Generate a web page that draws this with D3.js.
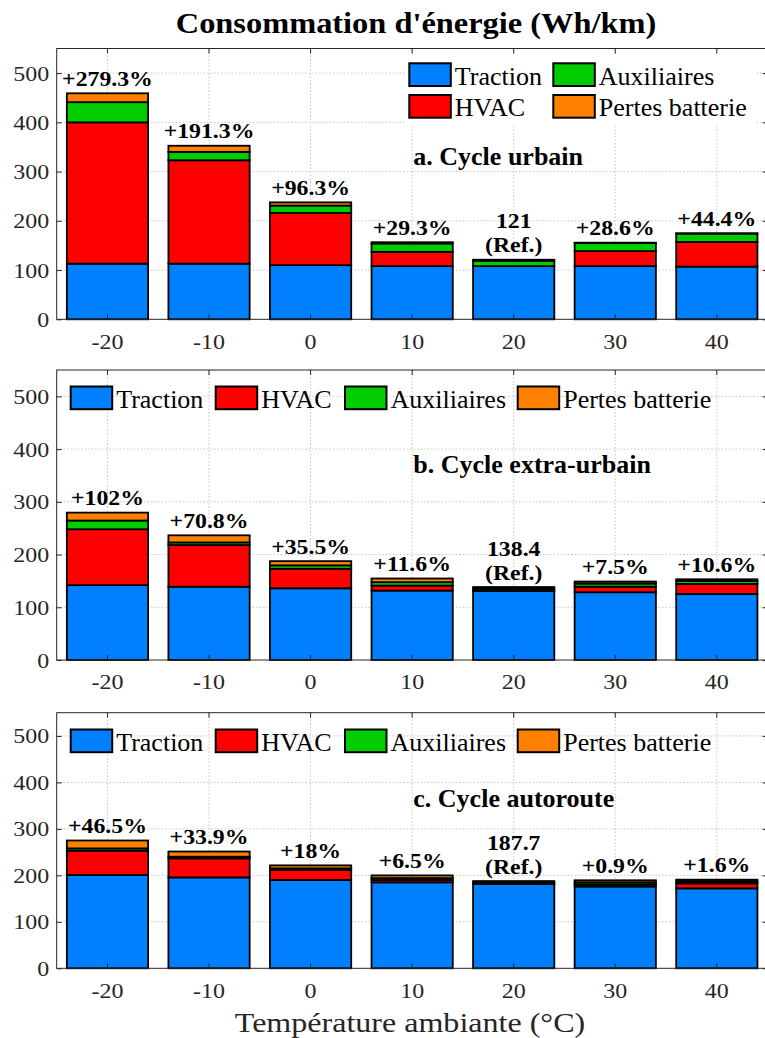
<!DOCTYPE html>
<html><head><meta charset="utf-8">
<script src="https://cdn.jsdelivr.net/npm/d3@7"></script>
</head><body style="margin:0"><script>
// ---- data ----
const temperatures = ["-20","-10","0","10","20","30","40"];
const seriesKeys = ["traction","hvac","aux","batt"];
const seriesNames = ["Traction","HVAC","Auxiliaires","Pertes batterie"];
const seriesColors = ["#0080FF","#FF0000","#00CC00","#FF8000"];
const yTicks = [0,100,200,300,400,500];

// a. Cycle urbain (ref 121 Wh/km)
const urbTraction = [113, 113, 110, 108, 108, 108, 107];
const urbHvac     = [287, 210, 106, 29, 0, 30.5, 50];
const urbAux      = [41, 17, 15, 17, 11, 16.5, 17];
const urbBatt     = [18, 12.5, 6.5, 2.5, 2, 0.6, 0.7];
const urbLabels   = ["+279.3%","+191.3%","+96.3%","+29.3%","121|(Ref.)","+28.6%","+44.4%"];

// b. Cycle extra-urbain (ref 138.4 Wh/km)
const extTraction = [142, 139, 136, 131.6, 131, 128.5, 125.3];
const extHvac     = [106, 79, 37, 9.5, 0, 10.5, 19];
const extAux      = [16.5, 5, 6.5, 6.5, 4, 6, 5.5];
const extBatt     = [15, 13.5, 8, 7, 3.4, 3.8, 3.3];
const extLabels   = ["+102%","+70.8%","+35.5%","+11.6%","138.4|(Ref.)","+7.5%","+10.6%"];

// c. Cycle autoroute (ref 187.7 Wh/km)
const hwyTraction = [201, 195.6, 190, 185, 181.4, 176, 172];
const hwyHvac     = [52, 41, 21.5, 5, 0, 4.4, 10.7];
const hwyAux      = [5, 3.5, 3.5, 4, 3, 4.5, 4];
const hwyBatt     = [17, 11.2, 6.5, 5.9, 3.3, 4.5, 4];
const hwyLabels   = ["+46.5%","+33.9%","+18%","+6.5%","187.7|(Ref.)","+0.9%","+1.6%"];

const W = 765, H = 1038;
const FONT = "Liberation Serif";
const TXT = "#262626";

const svg = d3.select("body").append("svg").attr("width", W).attr("height", H)
  .style("display", "block").style("font-family", FONT);

function addText(parent, x, y, str, o) {
  return parent.append("text")
    .attr("transform", `translate(${x},${y}) scale(${o.sx || 1},1)`)
    .attr("text-anchor", o.anchor || "start")
    .style("font-family", FONT)
    .attr("font-size", o.size).attr("font-weight", o.weight || "normal")
    .attr("fill", o.fill || "#000").text(str);
}

addText(svg, 416, 33.3, "Consommation d'énergie (Wh/km)", {size: 30, sx: 1.08, anchor: "middle", weight: "bold"});

function buildRows(tr, hv, au, ba) {
  return temperatures.map((t, i) => ({temp: t, traction: tr[i], hvac: hv[i], aux: au[i], batt: ba[i]}));
}

const panels = [
  {top: 48.5, bottom: 319.3, rows: buildRows(urbTraction, urbHvac, urbAux, urbBatt), labels: urbLabels,
   name: "a. Cycle urbain", nameY: 165, legend: "grid", legendY: 63.3},
  {top: 370, bottom: 660, rows: buildRows(extTraction, extHvac, extAux, extBatt), labels: extLabels,
   name: "b. Cycle extra-urbain", nameY: 473.3, legend: "row", legendY: 386.5},
  {top: 712.7, bottom: 968.3, rows: buildRows(hwyTraction, hwyHvac, hwyAux, hwyBatt), labels: hwyLabels,
   name: "c. Cycle autoroute", nameY: 806.7, legend: "row", legendY: 729.5}
];

const X0 = 56.7, X1 = 767.6;
const stack = d3.stack().keys(seriesKeys);
const color = d3.scaleOrdinal().domain(seriesKeys).range(seriesColors);
const TICK_SX = 1.09, TICK_SIZE = 22;

panels.forEach(p => {
  const g = svg.append("g");
  const x = d3.scaleBand().domain(temperatures).range([X0, X1]).paddingInner(0.2).paddingOuter(0.1);
  const y = d3.scaleLinear().domain([0, 550]).range([p.bottom, p.top]);

  // grid
  const grid = g.append("g").attr("stroke", "#c4c4c4").attr("stroke-width", 1).attr("stroke-dasharray", "1.5,2");
  grid.selectAll("line.h").data(yTicks.filter(d => d > 0)).join("line")
    .attr("x1", X0).attr("x2", X1).attr("y1", d => y(d)).attr("y2", d => y(d));
  grid.selectAll("line.v").data(temperatures).join("line")
    .attr("x1", d => x(d) + x.bandwidth() / 2).attr("x2", d => x(d) + x.bandwidth() / 2)
    .attr("y1", p.top).attr("y2", p.bottom);

  if (p.legend === "grid") {
    g.append("rect").attr("x", 405).attr("y", 55).attr("width", 350).attr("height", 69).attr("fill", "#fff");
  }

  // bars
  const series = stack(p.rows);
  g.append("g").selectAll("g").data(series).join("g")
    .attr("fill", d => color(d.key))
    .selectAll("rect").data(d => d).join("rect")
    .attr("x", d => x(d.data.temp)).attr("width", x.bandwidth())
    .attr("y", d => y(d[1])).attr("height", d => y(d[0]) - y(d[1]))
    .attr("stroke", "#000").attr("stroke-width", 1.8);

  // bar labels
  p.rows.forEach((r, i) => {
    const total = seriesKeys.reduce((s, k) => s + r[k], 0);
    const cx = x(r.temp) + x.bandwidth() / 2;
    const parts = p.labels[i].split("|");
    const yb = y(total) - 7.5;
    parts.forEach((t, j) => {
      addText(g, cx, yb - (parts.length - 1 - j) * 24, t, {size: 20.5, sx: 1.16, anchor: "middle", weight: "bold"});
    });
  });

  // axes (inward ticks)
  const ya = g.append("g").attr("transform", `translate(${X0},0)`)
    .call(d3.axisLeft(y).tickValues(yTicks).tickSizeInner(-5).tickSizeOuter(0).tickPadding(7.5));
  ya.attr("font-family", null);
  ya.select(".domain").remove();
  ya.selectAll("line").attr("stroke", TXT);
  ya.selectAll("text").attr("x", -7.5 / TICK_SX).attr("transform", `scale(${TICK_SX},1)`)
    .attr("font-size", TICK_SIZE).attr("fill", TXT).style("font-family", FONT);

  const yr = g.append("g").attr("transform", `translate(${X1},0)`)
    .call(d3.axisRight(y).tickValues(yTicks).tickSizeInner(-5).tickSizeOuter(0).tickFormat(""));
  yr.select(".domain").remove();
  yr.selectAll("line").attr("stroke", TXT);

  const xa = g.append("g").attr("transform", `translate(0,${p.bottom})`)
    .call(d3.axisBottom(x).tickSizeInner(-5).tickSizeOuter(0));
  xa.attr("font-family", null);
  xa.select(".domain").remove();
  xa.selectAll("line").attr("stroke", TXT);
  xa.selectAll("text").attr("y", 29.5).attr("dy", 0).attr("transform", `scale(${TICK_SX},1)`)
    .attr("font-size", TICK_SIZE).attr("fill", TXT).style("font-family", FONT);

  const xt = g.append("g").attr("transform", `translate(0,${p.top})`)
    .call(d3.axisTop(x).tickSizeInner(-5).tickSizeOuter(0).tickFormat(""));
  xt.select(".domain").remove();
  xt.selectAll("line").attr("stroke", TXT);

  g.append("rect").attr("x", X0).attr("y", p.top).attr("width", X1 - X0).attr("height", p.bottom - p.top)
    .attr("fill", "none").attr("stroke", TXT).attr("stroke-width", 1);

  // panel name
  addText(g, 413.3, p.nameY, p.name, {size: 26, weight: "bold"});

  // legend
  let items;
  if (p.legend === "grid") {
    const colX = [409.3, 553.3], rowY = [63.3, 95];
    items = seriesNames.map((n, i) => ({name: n, color: seriesColors[i], sx: colX[i < 2 ? 0 : 1], sy: rowY[i % 2]}));
  } else {
    const sx = [70.7, 215.7, 345, 517.7];
    items = seriesNames.map((n, i) => ({name: n, color: seriesColors[i], sx: sx[i], sy: p.legendY}));
  }
  items.forEach(it => {
    g.append("rect").attr("x", it.sx).attr("y", it.sy).attr("width", 41.5).attr("height", 22.7)
      .attr("fill", it.color).attr("stroke", "#000").attr("stroke-width", 2);
    addText(g, it.sx + 45.5, it.sy + 21.2, it.name, {size: 26});
  });
});

addText(svg, 410, 1031.5, "Température ambiante (°C)", {size: 28, sx: 1.145, anchor: "middle", fill: TXT});
</script></body></html>
